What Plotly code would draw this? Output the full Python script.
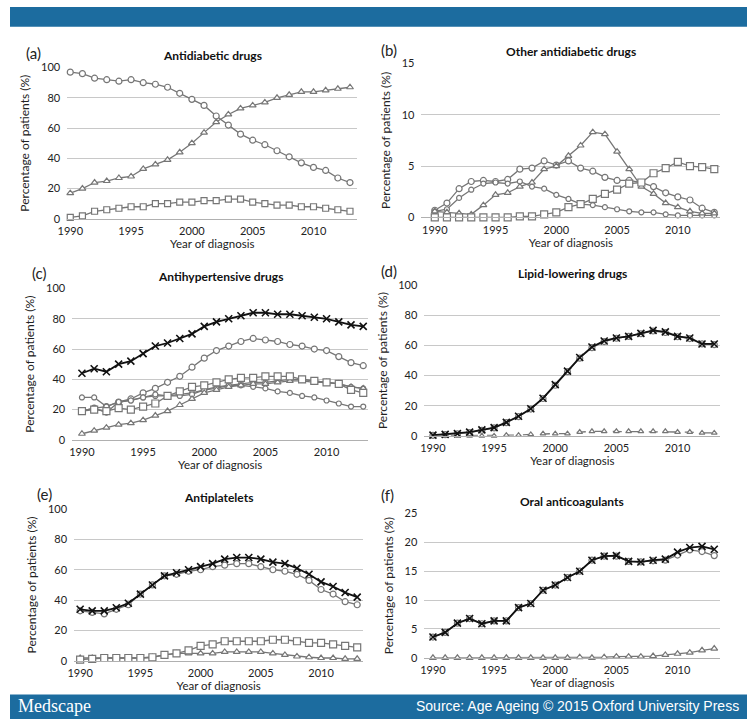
import plotly.graph_objects as go

years = list(range(1990, 2014))

# (a) Antidiabetic drugs
a_circle = [97, 96, 93, 92, 91, 92, 90, 89, 87, 83, 79, 75, 68, 62, 56, 52, 49, 45, 41, 37, 34, 32, 27, 24]
a_triangle = [17, 20, 24, 25, 27, 28, 33, 36, 39, 44, 50, 57, 64, 69, 73, 75, 77, 80, 82, 84, 84, 85, 86, 87]
a_square = [1, 2, 5, 6, 7, 8, 8, 10, 10, 11, 11, 12, 12, 13, 13, 11, 10, 9, 9, 8, 8, 7, 6, 5]

# (b) Other antidiabetic drugs
b_circle = [0.7, 1.4, 2.8, 3.5, 3.6, 3.5, 3.7, 4.7, 4.8, 5.5, 5.1, 5.5, 4.8, 4.5, 3.9, 3.6, 3.6, 3.4, 3.0, 2.4, 2.0, 1.7, 0.9, 0.5]
b_diamond = [0.6, 0.8, 1.9, 2.7, 3.3, 3.4, 3.3, 3.5, 3.0, 2.8, 2.2, 1.8, 1.3, 1.2, 1.0, 0.8, 0.6, 0.5, 0.5, 0.3, 0.2, 0.2, 0.2, 0.2]
b_triangle = [0.6, 0.5, 0.4, 0.3, 1.2, 2.2, 2.4, 3.0, 3.4, 4.7, 5.0, 6.0, 7.0, 8.3, 8.1, 6.4, 4.7, 3.0, 2.3, 1.4, 1.0, 0.6, 0.4, 0.4]
b_square = [0, 0, 0, 0, 0, 0, 0, 0.1, 0.1, 0.3, 0.5, 1.0, 1.3, 1.8, 2.3, 2.7, 3.3, 3.4, 4.3, 4.8, 5.4, 5.0, 4.9, 4.7]

# (c) Antihypertensive drugs
c_x = [44, 47, 45, 50, 52, 57, 62, 64, 67, 70, 75, 78, 80, 82, 84, 84, 83, 83, 82, 81, 80, 78, 76, 75]
c_circle = [19, 21, 22, 25, 27, 31, 34, 38, 42, 48, 54, 59, 62, 65, 67, 66, 65, 63, 62, 60, 59, 55, 51, 49]
c_square = [19, 20, 19, 21, 20, 22, 24, 29, 32, 35, 36, 38, 40, 41, 41, 42, 42, 42, 40, 39, 38, 37, 33, 31]
c_diamond = [28, 28, 22, 25, 26, 28, 30, 29, 29, 30, 33, 34, 36, 36, 35, 34, 32, 31, 29, 28, 26, 24, 22, 22]
c_circle2 = [19, 21, 18, 25, 26, 28, 29, 29, 30, 31, 33, 35, 36, 37, 38, 38, 39, 40, 40, 39, 38, 37, 35, 34]
c_triangle = [4, 6, 8, 10, 11, 13, 16, 19, 23, 27, 31, 33, 35, 36, 37, 37, 38, 39, 39, 38, 38, 37, 35, 34]

# (d) Lipid-lowering drugs
d_x = [0.5, 1, 1.5, 2.5, 4, 5.5, 9, 13, 18, 25, 34, 43, 52, 59, 63, 65, 66, 68, 70, 69, 66, 65, 61, 61]
d_circle = [0.3, 0.8, 1.3, 2.2, 3.7, 5.3, 8.8, 12.8, 17.8, 24.8, 33.6, 42.6, 51.6, 58.6, 62.6, 64.8, 66, 67.8, 69.6, 68.6, 65.8, 64.6, 61, 60.6]
d_triangle = [0, 0, 0, 0, 0, 0, 0.5, 0.5, 1, 1.5, 1.5, 1.5, 2.5, 3, 3, 3, 3, 3, 3, 3, 2.5, 2.5, 2, 2]

# (e) Antiplatelets
e_x = [34, 33, 33, 35, 38, 44, 50, 56, 58, 60, 62, 64, 67, 68, 68, 67, 65, 64, 61, 57, 52, 49, 45, 42]
e_circle = [33, 32, 31, 34, 37, 44, 50, 56, 57, 59, 60, 62, 63, 64, 64, 62, 60, 59, 57, 53, 47, 44, 39, 37]
e_square = [1, 1.5, 2, 2, 2, 2, 2.5, 4, 5, 7, 10, 11, 13, 13, 13, 13, 14, 14, 13, 12, 12, 11, 10, 9]
e_triangle = [2, 2, 2, 2, 2, 2, 2.5, 4, 5, 5, 5, 5, 6, 6, 6, 6, 5, 4, 3, 2.5, 2, 2, 1.5, 1.5]

# (f) Oral anticoagulants
f_x = [3.6, 4.4, 6.0, 6.8, 5.9, 6.4, 6.4, 8.7, 9.4, 11.7, 12.6, 13.9, 15.0, 16.9, 17.6, 17.7, 16.7, 16.6, 16.9, 17.1, 18.3, 19.1, 19.3, 18.8]
f_circle = [3.6, 4.4, 6.0, 6.8, 5.9, 6.4, 6.4, 8.7, 9.4, 11.7, 12.6, 13.9, 15.0, 16.9, 17.6, 17.6, 16.7, 16.6, 16.8, 16.9, 17.8, 18.7, 18.4, 17.7]
f_triangle = [0, 0, 0, 0, 0, 0, 0, 0, 0, 0, 0, 0, 0.1, 0, 0.1, 0.2, 0.2, 0.2, 0.3, 0.5, 0.7, 0.9, 1.3, 1.6]

titles = ["Antidiabetic drugs", "Other antidiabetic drugs", "Antihypertensive drugs",
          "Lipid-lowering drugs", "Antiplatelets", "Oral anticoagulants"]
panel_labels = ["(a)", "(b)", "(c)", "(d)", "(e)", "(f)"]
y_max = [100, 15, 100, 100, 100, 25]
y_dtick = [20, 5, 20, 20, 20, 5]

W, H = 747, 725
# plot-area pixel boxes: (left, right, top, bottom)
boxes = [
    (58, 352, 61.7, 215.7),
    (417, 720, 57.3, 214.3),
    (63, 363, 286.7, 440.7),
    (420, 720, 283.3, 436.7),
    (65, 358, 511, 666),
    (420, 720, 515.7, 662.7),
]
xranges = [(1989.75, 2013.6), (1988.9, 2013.5), (1989.2, 2013.4),
           (1989.3, 2013.5), (1989.5, 2013.5), (1989.3, 2013.5)]

GRAY = "#767676"
FONT = "Lato, 'Open Sans', sans-serif"

fig = go.Figure()

def add(i, y, symbol, color=GRAY, size=6, dash="solid", lw=1.3, mcolor=None):
    ax = "" if i == 0 else str(i + 1)
    is_x = symbol.startswith("x")
    fig.add_trace(go.Scatter(
        x=years, y=y, mode="lines+markers",
        xaxis="x" + ax, yaxis="y" + ax,
        line=dict(color=color, width=lw, dash=dash),
        marker=dict(symbol=symbol, size=size,
                    color="white" if not is_x else (mcolor or color),
                    line=dict(color=mcolor or color, width=1.2 if not is_x else 1.6)),
        cliponaxis=False, showlegend=False, hoverinfo="x+y"))

# (a)
add(0, a_circle, "circle")
add(0, a_triangle, "triangle-up")
add(0, a_square, "square")
# (b)
add(1, b_circle, "circle")
add(1, b_diamond, "circle", size=5)
add(1, b_triangle, "triangle-up")
add(1, b_square, "square", size=7)
# (c)
add(2, c_circle, "circle")
add(2, c_circle2, "circle", size=5)
add(2, c_diamond, "circle", size=5)
add(2, c_triangle, "triangle-up")
add(2, c_square, "square", size=7)
add(2, c_x, "x-thin-open", color="#111111", size=7, lw=1.8)
# (d)
add(3, d_triangle, "triangle-up", size=5, dash="dash")
add(3, d_circle, "circle", size=6)
add(3, d_x, "x-thin-open", color="#111111", size=7, lw=1.8)
# (e)
add(4, e_triangle, "triangle-up")
add(4, e_square, "square", size=7)
add(4, e_circle, "circle")
add(4, e_x, "x-thin-open", color="#111111", size=7, lw=1.8)
# (f)
add(5, f_triangle, "triangle-up")
add(5, f_circle, "circle")
add(5, f_x, "x-thin-open", color="#111111", size=7, lw=1.8)

layout = dict(
    width=W, height=H,
    margin=dict(l=0, r=0, t=0, b=0),
    paper_bgcolor="white", plot_bgcolor="white",
    font=dict(family=FONT, size=11, color="#222222"),
    showlegend=False,
)

annotations = []
shapes = []
for i, (l, r, t, b) in enumerate(boxes):
    ax = "" if i == 0 else str(i + 1)
    layout["xaxis" + ax] = dict(
        domain=[l / W, r / W], anchor="y" + ax,
        range=list(xranges[i]), tickvals=[1990, 1995, 2000, 2005, 2010],
        showgrid=False, showline=True, linecolor="#b0b0b0", linewidth=1,
        ticks="", zeroline=False, ticklabelstandoff=2,
        tickfont=dict(family=FONT, size=11, color="#222222"),
        title=dict(text="Year of diagnosis", standoff=1,
                   font=dict(family=FONT, size=11.5, color="#222222")),
    )
    layout["yaxis" + ax] = dict(
        domain=[1 - b / H, 1 - t / H], anchor="x" + ax,
        range=[0, y_max[i]], dtick=y_dtick[i],
        showgrid=True, gridcolor="#c8c8c8", gridwidth=1,
        showline=False, zeroline=False, ticks="", ticklabelstandoff=6,
        tickfont=dict(family=FONT, size=11, color="#222222"),
        title=dict(text="Percentage of patients (%)", standoff=8,
                   font=dict(family=FONT, size=12, color="#222222")),
    )
    annotations.append(dict(
        text="<b>" + titles[i] + "</b>", xref="paper", yref="paper",
        x=(l + r) / 2 / W, y=1 - (t - 12) / H, showarrow=False,
        xanchor="center", yanchor="middle",
        font=dict(family=FONT, size=12, color="#111111")))

label_pos = [(14, 47), (374, 44), (20, 271), (374, 269), (25, 496), (374, 497)]
for lab, (px, py) in zip(panel_labels, label_pos):
    annotations.append(dict(
        text=lab, xref="paper", yref="paper", x=px / W, y=1 - py / H,
        showarrow=False, xanchor="left", yanchor="middle",
        font=dict(family=FONT, size=15, color="#222222")))

BLUE = "#1c6c9f"
shapes.append(dict(type="rect", xref="paper", yref="paper", x0=0, x1=1,
                   y0=1 - 20 / H, y1=1, fillcolor=BLUE, line=dict(width=0), layer="below"))
shapes.append(dict(type="rect", xref="paper", yref="paper", x0=0, x1=1,
                   y0=0, y1=1 - 700 / H, fillcolor=BLUE, line=dict(width=0), layer="below"))
annotations.append(dict(
    text="Medscape", xref="paper", yref="paper", x=6 / W, y=1 - 712 / H,
    showarrow=False, xanchor="left", yanchor="middle",
    font=dict(family="'Liberation Serif', serif", size=18, color="white")))
annotations.append(dict(
    text="Source: Age Ageing © 2015 Oxford University Press", xref="paper", yref="paper",
    x=741 / W, y=1 - 712 / H, showarrow=False, xanchor="right", yanchor="middle",
    font=dict(family="'Liberation Sans', Arial, sans-serif", size=14, color="white")))

layout["annotations"] = annotations
layout["shapes"] = shapes
fig.update_layout(**layout)
fig.write_html("out.html", config={"displayModeBar": False},
               post_script="document.body.style.margin='0';document.body.style.padding='0';")
